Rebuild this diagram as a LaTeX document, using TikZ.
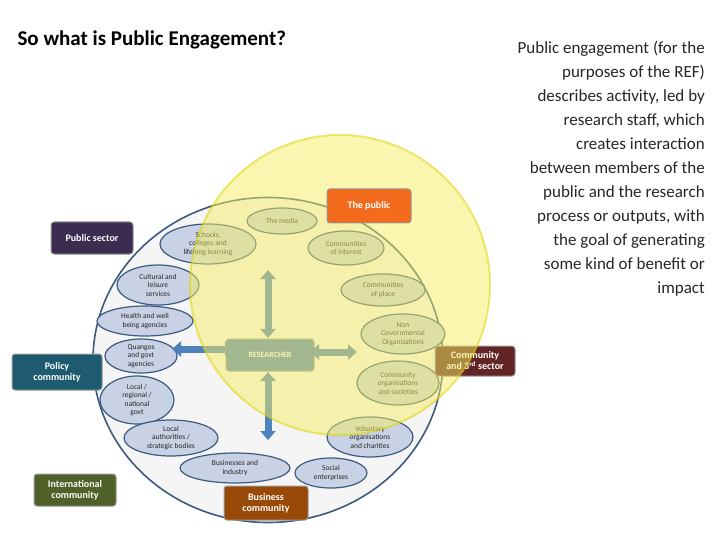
\documentclass[tikz,border=0pt]{standalone}
\usepackage{fontspec}
\setmainfont{Carlito}
\usetikzlibrary{arrows.meta,shapes.geometric}
\definecolor{ebord}{HTML}{3C5A80}
\definecolor{efill}{HTML}{C8D2E4}
\definecolor{arrblue}{HTML}{4F81BD}
\definecolor{pscol}{HTML}{3D2C52}
\definecolor{polcol}{HTML}{1F5B70}
\definecolor{intcol}{HTML}{4F6128}
\definecolor{buscol}{HTML}{984807}
\definecolor{c3col}{HTML}{632523}
\definecolor{pubcol}{HTML}{F26A1B}
\begin{document}
\begin{tikzpicture}[x=1pt,y=-1pt,
  orb/.style={ellipse,draw=ebord,fill=efill,line width=1.2pt,inner sep=0pt,align=center,font=\fontsize{7.5}{8.5}\selectfont,text=black!85},
  tag/.style={rounded corners=3pt,draw=black!40,line width=1pt,text=white,font=\bfseries\fontsize{10}{11}\selectfont,align=center,inner sep=2pt},
  fat/.style={line width=7pt,draw=arrblue,{Triangle[width=15pt,length=9pt]}-{Triangle[width=15pt,length=9pt]}}]
\useasboundingbox (0,0) rectangle (720,540);
\node[anchor=west,font=\bfseries\fontsize{21}{24}\selectfont] (title) at (14,40) {So what is Public Engagement?};
\node[anchor=north east,align=right,font=\fontsize{17}{24}\selectfont,text=black!85,inner sep=0pt] (txt) at (705,41)
 {Public engagement (for the\\purposes of the REF)\\describes activity, led by\\research staff, which\\creates interaction\\between members of the\\public and the research\\process or outputs, with\\the goal of generating\\some kind of benefit or\\impact};
\node[ellipse,draw=ebord,fill=black!4,line width=1.6pt,minimum width=350pt,minimum height=325pt] (big) at (268,360) {};
\node[orb,minimum width=70pt,minimum height=26pt] (media) at (282,221) {The media};
\node[orb,minimum width=96pt,minimum height=40pt] (schools) at (208,244) {Schools,\\colleges and\\lifelong learning};
\node[orb,minimum width=76pt,minimum height=34pt] (cint) at (346,248) {Communities\\of interest};
\node[orb,minimum width=82pt,minimum height=40pt] (cult) at (158,285) {Cultural and\\leisure\\services};
\node[orb,minimum width=84pt,minimum height=32pt] (cplace) at (383,290) {Communities\\of place};
\node[orb,minimum width=96pt,minimum height=30pt] (health) at (145,321) {Health and well\\being agencies};
\node[orb,minimum width=84pt,minimum height=40pt] (ngo) at (403,334) {Non\\Governmental\\Organizations};
\node[orb,minimum width=72pt,minimum height=34pt] (quango) at (141,356) {Quangos\\and govt\\agencies};
\node[orb,minimum width=82pt,minimum height=44pt] (corg) at (398,383) {Community\\organisations\\and societies};
\node[orb,minimum width=74pt,minimum height=48pt] (lgov) at (137,400) {Local /\\regional /\\national\\govt};
\node[orb,minimum width=94pt,minimum height=36pt] (lauth) at (171,438) {Local\\authorities /\\strategic bodies};
\node[orb,minimum width=86pt,minimum height=40pt] (vol) at (370,437) {Voluntary\\organisations\\and charities};
\node[orb,minimum width=110pt,minimum height=30pt] (bus) at (235,468) {Businesses and\\industry};
\node[orb,minimum width=72pt,minimum height=30pt] (soc) at (331,473) {Social\\enterprises};
\node[tag,fill=arrblue,minimum width=88pt,minimum height=32pt,font=\bfseries\fontsize{8}{9}\selectfont] (res) at (270,355) {RESEARCHER};
\coordinate (ut) at (268,270); \coordinate (ub) at (268,338);
\coordinate (dt) at (268,372); \coordinate (db) at (268,440);
\coordinate (ll) at (172,349); \coordinate (lr) at (234,349);
\coordinate (rl) at (310,352); \coordinate (rr) at (357,352);
\draw[fat] (ut) -- (ub);
\draw[fat] (dt) -- (db);
\draw[fat] (ll) -- (lr);
\draw[fat] (rl) -- (rr);
\node[tag,fill=c3col,minimum width=80pt,minimum height=30pt] (c3) at (475,361) {Community\\and 3\textsuperscript{rd} sector};
\fill[yellow!85!olive!60!white,opacity=0.5] (340,285) circle (150);
\draw[yellow!70!olive,line width=2pt,opacity=0.5] (340,285) circle (150);
\node[tag,fill=pubcol,minimum width=84pt,minimum height=34pt] (pub) at (369,206) {The public};
\node[tag,fill=pscol,minimum width=82pt,minimum height=32pt] (ps) at (92,238) {Public sector};
\node[tag,fill=polcol,minimum width=90pt,minimum height=36pt] (pol) at (57,372) {Policy\\community};
\node[tag,fill=intcol,minimum width=82pt,minimum height=32pt] (intl) at (75,490) {International\\community};
\node[tag,fill=buscol,minimum width=84pt,minimum height=34pt] (bc) at (266,503) {Business\\community};
\end{tikzpicture}
\end{document}
